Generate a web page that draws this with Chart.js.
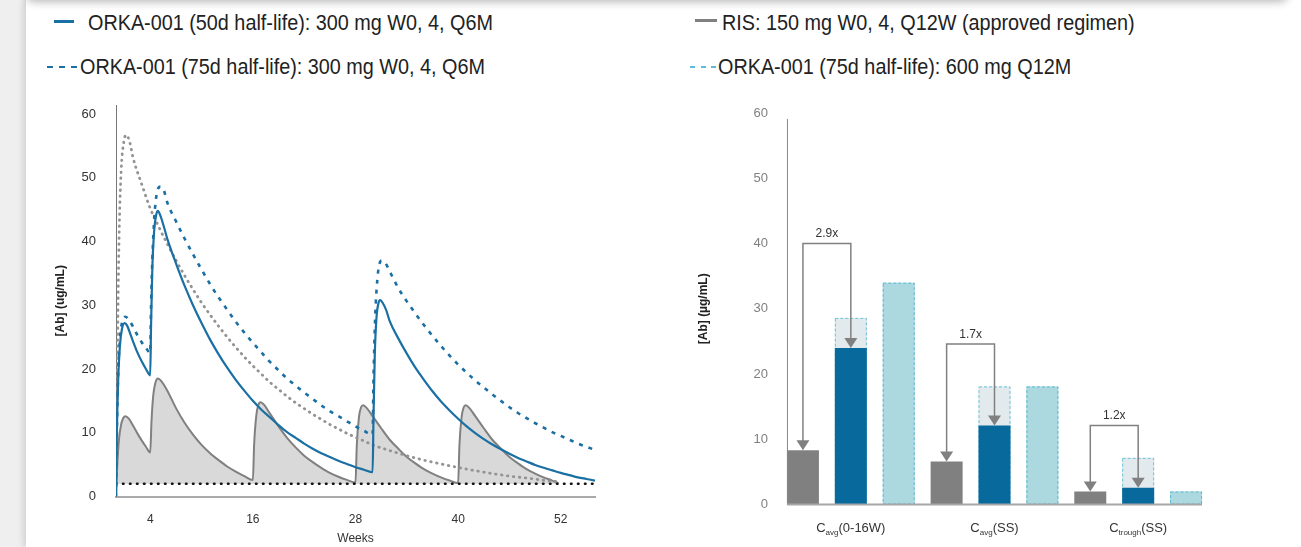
<!DOCTYPE html>
<html>
<head>
<meta charset="utf-8">
<script src="https://cdn.jsdelivr.net/npm/chart.js@4.4.0/dist/chart.umd.min.js"></script>
<style>
html, body { margin: 0; padding: 0; }
body { width: 1301px; height: 547px; overflow: hidden; background: #efefef; position: relative;
       font-family: "Liberation Sans", Arial, sans-serif; }
#panel { position: absolute; left: 26px; top: 0; width: 1275px; height: 547px; background: #fff;
         box-shadow: -3px 0 6px rgba(0,0,0,0.12); }
#topbar { position: absolute; left: 26px; top: -30px; width: 1262px; height: 30px; background: #fff;
          border-radius: 0 0 8px 8px; box-shadow: 0 2px 9px rgba(0,0,0,0.28); }
.lg { position: absolute; font-size: 22px; line-height: 22px; color: #222; white-space: nowrap;
      transform: scaleX(0.9); transform-origin: 0 0; }
.sw { position: absolute; height: 2.5px; }
canvas { position: absolute; }
</style>
</head>
<body>
<div id="panel"></div>
<div id="topbar"></div>

<!-- legend -->
<div class="sw" style="left:54px;top:20px;width:20px;background:#1a6fa3"></div>
<div class="lg" style="left:88px;top:12px">ORKA-001 (50d half-life): 300 mg W0, 4, Q6M</div>
<div class="sw" style="left:47px;top:65.5px;width:30px;background:repeating-linear-gradient(90deg,#1a6fa3 0 6px,transparent 6px 12px)"></div>
<div class="lg" style="left:80px;top:56px">ORKA-001 (75d half-life): 300 mg W0, 4, Q6M</div>
<div class="sw" style="left:695px;top:19px;width:22px;background:#808080"></div>
<div class="lg" style="left:722px;top:12px">RIS: 150 mg W0, 4, Q12W (approved regimen)</div>
<div class="sw" style="left:690px;top:65.5px;width:27px;background:repeating-linear-gradient(90deg,#5bbcd6 0 5px,transparent 5px 10.5px)"></div>
<div class="lg" style="left:718px;top:56px">ORKA-001 (75d half-life): 600 mg Q12M</div>

<canvas id="pk" width="620" height="447" style="left:0;top:100px"></canvas>
<canvas id="bars" width="640" height="447" style="left:640px;top:100px"></canvas>

<script>
// ---- left panel: concentration vs time (weeks / ug/mL) ----
var weekTicks = [4, 16, 28, 40, 52];
var concTicks = [0, 10, 20, 30, 40, 50, 60];

var orka50Weeks = [0, 0.1, 0.25, 0.45, 0.7, 1.0, 1.3, 1.7, 2, 2.5, 3, 3.5, 4,
  4.1, 4.25, 4.45, 4.7, 4.9, 5.2, 5.6, 6, 7, 8, 9, 10, 11, 12, 13, 14, 15, 16, 17, 18,
  19, 20, 21, 22, 23, 24, 25, 26, 27, 28, 29, 30,
  30.1, 30.25, 30.45, 30.7, 30.9, 31.2, 31.6, 32, 33, 34, 35, 36, 37, 38, 39, 40, 41,
  42, 43, 44, 45, 46, 47, 48, 49, 50, 51, 52, 53, 54, 55, 56];
var orka50Conc = [0, 10, 18, 23.5, 26.3, 27.2, 26.8, 25.4, 24.3, 22.6, 21.2, 20.0, 19.0,
  27, 36, 41.5, 44.2, 44.8, 44.0, 42.3, 40.4, 36.6, 33.1, 30.0, 27.2, 24.6, 22.3, 20.2, 18.3, 16.6, 15.0, 13.6, 12.4,
  11.2, 10.1, 9.2, 8.3, 7.5, 6.8, 6.2, 5.6, 5.1, 4.6, 4.2, 3.8,
  12, 22, 28, 30.4, 30.8, 30.3, 29.2, 27.5, 24.8, 22.4, 20.2, 18.3, 16.5, 14.9, 13.5, 12.2, 11.0,
  9.95, 9.0, 8.15, 7.4, 6.7, 6.05, 5.5, 4.95, 4.5, 4.1, 3.7, 3.35, 3.0, 2.75, 2.5];

var orka75Weeks = [0, 0.1, 0.25, 0.45, 0.7, 1.1, 1.5, 2, 2.5, 3, 3.5, 4,
  4.1, 4.3, 4.55, 4.85, 5.2, 5.6, 6, 7, 8, 9, 10, 11, 12, 13, 14, 15, 16, 17, 18,
  19, 20, 21, 22, 23, 24, 25, 26, 27, 28, 29, 30,
  30.1, 30.3, 30.55, 30.85, 31.1, 31.5, 32, 33, 34, 35, 36, 37, 38, 39, 40, 41,
  42, 43, 44, 45, 46, 47, 48, 49, 50, 51, 52, 53, 54, 55, 56];
var orka75Conc = [0, 10, 19, 24.5, 27.3, 28.2, 27.7, 26.6, 25.3, 24.2, 23.3, 22.5,
  30, 39, 45, 48.0, 48.6, 48.0, 46.1, 43.2, 40.5, 38.0, 35.6, 33.3, 31.2, 29.3, 27.4, 25.7, 24.1, 22.6, 21.1,
  19.8, 18.5, 17.4, 16.3, 15.3, 14.3, 13.4, 12.6, 11.8, 11.0, 10.3, 9.7,
  18, 28, 34, 36.7, 37.0, 36.6, 35.3, 32.7, 30.6, 28.7, 26.9, 25.2, 23.6, 22.1, 20.7, 19.4,
  18.2, 17.1, 16.0, 15.0, 14.0, 13.1, 12.3, 11.5, 10.8, 10.1, 9.5, 8.9, 8.3, 7.8, 7.3];

var orka600Weeks = [0, 0.15, 0.35, 0.6, 0.9, 1.2, 1.6,
  2, 3, 4, 5, 6, 7, 8, 9, 10, 11, 12, 13, 14, 15, 16, 17, 18, 19, 20, 21, 22, 23, 24, 25,
  26, 27, 28, 29, 30, 32, 34, 36, 38, 40, 42, 44, 46, 48, 50, 52];
var orka600Conc = [0, 20, 40, 51, 55.5, 56.7, 55.6,
  53.1, 49.0, 45.2, 42.3, 39.6, 37.1, 34.7, 32.5, 30.4, 28.5, 26.7, 25.0, 23.4, 21.9, 20.5, 19.2, 17.9, 16.8, 15.7, 14.7, 13.8, 12.9, 12.1, 11.3,
  10.6, 9.9, 9.3, 8.7, 8.1, 7.2, 6.4, 5.7, 5.1, 4.55, 4.05, 3.6, 3.2, 2.9, 2.55, 2.3];

var risWeeks = [0, 0.15, 0.35, 0.6, 0.85, 1.1, 1.5, 2, 2.5, 3, 3.5, 4,
  4.15, 4.35, 4.6, 4.9, 5.3, 6, 7, 8, 9, 10, 11, 12, 13, 14, 15, 16,
  16.15, 16.4, 16.65, 16.9, 17.3, 18, 19, 20, 21, 22, 23, 24, 25, 26, 27, 28,
  28.15, 28.4, 28.65, 28.9, 29.3, 30, 31, 32, 33, 34, 35, 36, 37, 38, 39, 40,
  40.15, 40.4, 40.65, 40.9, 41.3, 42, 43, 44, 45, 46, 47, 48, 49, 50, 51, 51.7];
var risConc = [0, 5, 9, 11.3, 12.3, 12.6, 12.2, 11.1, 9.9, 8.8, 7.8, 6.9,
  11.8, 15.8, 17.8, 18.5, 18.1, 16.6, 13.9, 11.6, 9.7, 8.1, 6.8, 5.7, 4.7, 3.9, 3.2, 2.6,
  8.2, 12.7, 14.4, 14.8, 14.4, 13.0, 11.0, 9.2, 7.7, 6.4, 5.4, 4.5, 3.7, 3.1, 2.6, 2.2,
  8.0, 12.4, 14.0, 14.3, 13.9, 12.6, 10.7, 8.9, 7.5, 6.2, 5.2, 4.3, 3.6, 3.0, 2.5, 2.1,
  8.0, 12.4, 14.0, 14.3, 13.9, 12.6, 10.7, 8.9, 7.5, 6.2, 5.2, 4.3, 3.6, 3.0, 2.5, 2.1];

// dotted black threshold line
var mecWeeks = [0, 56];
var mecLevel = [2.0, 2.0];

// ---- right panel: exposure metrics (ug/mL) ----
var barSlots = ['', 'Cavg(0-16W)', '', '', 'Cavg(SS)', '', '', 'Ctrough(SS)', ''];
var risBars = [8.3, null, null, 6.6, null, null, 2.0, null, null];
var orka50Bars = [null, 24.0, null, null, 12.1, null, null, 2.55, null];
var orka75Bars = [null, 28.6, null, null, 18.1, null, null, 7.15, null];
var orka600Bars = [null, null, 34.0, null, null, 18.1, null, null, 2.0];
var barTicks = [0, 10, 20, 30, 40, 50, 60];
var metricSub = ['avg', 'avg', 'trough'];
var metricTail = ['(0-16W)', '(SS)', '(SS)'];
var foldLabels = ['2.9x', '1.7x', '1.2x'];
var foldTop = [40.0, 24.6, 12.1];

var FONT = '"Liberation Sans", Arial, sans-serif';
Chart.defaults.font.family = FONT;
Chart.defaults.animation = false;

function pts(xs, ys) {
  return xs.map(function (x, i) { return {x: x, y: ys[i]}; });
}

// keep tick-label padding from pushing the plot area around
function noEdgePadding(s) {
  s.paddingTop = 0; s.paddingBottom = 0; s.paddingLeft = 0; s.paddingRight = 0;
}

var BLUE = '#1a6fa3';

new Chart(document.getElementById('pk'), {
  type: 'line',
  data: {
    datasets: [
      {label: 'ORKA-001 (50d half-life): 300 mg W0, 4, Q6M', data: pts(orka50Weeks, orka50Conc),
       borderColor: BLUE, borderWidth: 2.2, order: 1},
      {label: 'ORKA-001 (75d half-life): 300 mg W0, 4, Q6M', data: pts(orka75Weeks, orka75Conc),
       borderColor: BLUE, borderWidth: 2.6, borderDash: [4, 6], order: 2},
      {label: 'ORKA-001 (75d half-life): 600 mg Q12M', data: pts(orka600Weeks, orka600Conc),
       borderColor: '#939393', borderWidth: 2.8, borderDash: [0.5, 5.5], borderCapStyle: 'round', order: 3},
      {label: 'threshold', data: pts(mecWeeks, mecLevel),
       borderColor: '#111', borderWidth: 2.6, borderDash: [0.5, 6.5], borderCapStyle: 'round', order: 4},
      {label: 'RIS: 150 mg W0, 4, Q12W', data: pts(risWeeks, risConc),
       borderColor: '#808080', borderWidth: 2, backgroundColor: '#d9d9d9', fill: {value: 2.0}, order: 5}
    ]
  },
  options: {
    responsive: false,
    devicePixelRatio: 1,
    layout: {padding: {top: 5, right: 25, left: 0, bottom: 0}},
    elements: {point: {radius: 0}, line: {cubicInterpolationMode: 'monotone'}},
    plugins: {legend: {display: false}, tooltip: {enabled: false}},
    scales: {
      x: {
        type: 'linear', min: 0, max: 56,
        grid: {display: false, drawTicks: false},
        border: {color: '#aaa', width: 2},
        afterBuildTicks: function (s) { s.ticks = weekTicks.map(function (v) { return {value: v}; }); },
        afterFit: function (s) { s.height = 50.5; noEdgePadding(s); },
        ticks: {color: '#333', font: {size: 12}, padding: 16, maxRotation: 0},
        title: {display: true, text: 'Weeks', color: '#333', font: {size: 12}, padding: {top: 0, bottom: 1}}
      },
      y: {
        min: 0, max: 61.4,
        grid: {display: false, drawTicks: false},
        border: {color: '#777', width: 1},
        afterBuildTicks: function (s) { s.ticks = concTicks.map(function (v) { return {value: v}; }); },
        afterFit: function (s) { s.width = 116; noEdgePadding(s); },
        ticks: {color: '#333', font: {size: 13}, padding: 20},
        title: {display: true, text: '[Ab] (ug/mL)', color: '#222', font: {size: 12, weight: 'bold'},
                padding: {top: 53, bottom: 0}}
      }
    }
  }
});

// dashed outlines, axes, fold brackets and subscripted category labels
var barDecor = {
  id: 'barDecor',
  afterDatasetDraw: function (chart, args) {
    var ds = chart.data.datasets[args.index];
    if (!ds.edgeColor) return;
    var ctx = chart.ctx;
    ctx.save();
    ctx.setLineDash([3, 2]);
    ctx.lineWidth = 1;
    ctx.strokeStyle = ds.edgeColor;
    args.meta.data.forEach(function (bar, i) {
      if (ds.data[i] == null) return;
      var p = bar.getProps(['x', 'y', 'base', 'width'], true);
      ctx.strokeRect(p.x - p.width / 2 + 0.5, p.y + 0.5, p.width - 1, p.base - p.y - 1);
    });
    ctx.restore();
  },
  afterDraw: function (chart) {
    var ctx = chart.ctx;
    var yS = chart.scales.y;
    var risMeta = chart.getDatasetMeta(0);
    var blueMeta = chart.getDatasetMeta(1);
    var tealMeta = chart.getDatasetMeta(3);
    var first = risMeta.data[0].getProps(['x', 'width'], true);
    var last = tealMeta.data[barSlots.length - 1].getProps(['x', 'width'], true);
    var x0 = first.x - first.width / 2;
    var x1 = last.x + last.width / 2;
    var y0 = yS.getPixelForValue(0);

    ctx.save();
    // axes
    ctx.strokeStyle = '#888';
    ctx.lineWidth = 1;
    ctx.beginPath();
    ctx.moveTo(x0 + 0.5, yS.getPixelForValue(59.1));
    ctx.lineTo(x0 + 0.5, y0);
    ctx.stroke();
    ctx.strokeStyle = '#a6a6a6';
    ctx.lineWidth = 2;
    ctx.beginPath();
    ctx.moveTo(x0, y0);
    ctx.lineTo(x1, y0);
    ctx.stroke();

    for (var g = 0; g < foldLabels.length; g++) {
      var li = g * 3, ri = g * 3 + 1;
      var lx = risMeta.data[li].getProps(['x'], true).x;
      var rx = blueMeta.data[ri].getProps(['x'], true).x;
      var top = yS.getPixelForValue(foldTop[g]);
      var lb = yS.getPixelForValue(risBars[li]);
      var rb = yS.getPixelForValue(orka50Bars[ri]);
      ctx.strokeStyle = '#808080';
      ctx.fillStyle = '#808080';
      ctx.lineWidth = 1.5;
      ctx.beginPath();
      ctx.moveTo(lx, lb - 9);
      ctx.lineTo(lx, top);
      ctx.lineTo(rx, top);
      ctx.lineTo(rx, rb - 9);
      ctx.stroke();
      [[lx, lb], [rx, rb]].forEach(function (t) {
        ctx.beginPath();
        ctx.moveTo(t[0], t[1]);
        ctx.lineTo(t[0] - 6.5, t[1] - 10);
        ctx.lineTo(t[0] + 6.5, t[1] - 10);
        ctx.closePath();
        ctx.fill();
      });
      ctx.fillStyle = '#333';
      ctx.font = '12px ' + FONT;
      ctx.textAlign = 'center';
      ctx.textBaseline = 'middle';
      ctx.fillText(foldLabels[g], (lx + rx) / 2, top - 9.5);

      // category label: C + subscript + tail, centred under the middle bar
      var cx = blueMeta.data[ri].getProps(['x'], true).x;
      var base = y0 + 27;
      ctx.textAlign = 'left';
      ctx.textBaseline = 'alphabetic';
      ctx.font = '13px ' + FONT;
      var wC = ctx.measureText('C').width;
      var wT = ctx.measureText(metricTail[g]).width;
      ctx.font = '8px ' + FONT;
      var wS = ctx.measureText(metricSub[g]).width;
      var sx = cx - (wC + wS + wT) / 2;
      ctx.font = '13px ' + FONT;
      ctx.fillText('C', sx, base);
      ctx.fillText(metricTail[g], sx + wC + wS, base);
      ctx.font = '8px ' + FONT;
      ctx.fillText(metricSub[g], sx + wC, base + 3);
    }
    ctx.restore();
  }
};

new Chart(document.getElementById('bars'), {
  type: 'bar',
  data: {
    labels: barSlots,
    datasets: [
      {label: 'RIS: 150 mg W0, 4, Q12W', data: risBars, backgroundColor: '#808080', order: 3},
      {label: 'ORKA-001 (50d half-life): 300 mg', data: orka50Bars, backgroundColor: '#08699d', order: 1},
      {label: 'ORKA-001 (75d half-life): 300 mg', data: orka75Bars, backgroundColor: '#e2eaee',
       edgeColor: '#6cc2d8', order: 2},
      {label: 'ORKA-001 (75d half-life): 600 mg Q12M', data: orka600Bars, backgroundColor: '#acd8df',
       edgeColor: '#5bb9d1', order: 3}
    ]
  },
  options: {
    responsive: false,
    devicePixelRatio: 1,
    datasets: {bar: {grouped: false, categoryPercentage: 1, barPercentage: 0.668}},
    layout: {padding: {top: 13, right: 70, left: 0, bottom: 0}},
    plugins: {legend: {display: false}, tooltip: {enabled: false}},
    scales: {
      x: {
        grid: {display: false, drawTicks: false},
        border: {display: false},
        ticks: {display: false},
        afterFit: function (s) { s.height = 42.5; noEdgePadding(s); }
      },
      y: {
        min: 0, max: 60,
        grid: {display: false, drawTicks: false},
        border: {display: false},
        afterBuildTicks: function (s) { s.ticks = barTicks.map(function (v) { return {value: v}; }); },
        afterFit: function (s) { s.width = 139; noEdgePadding(s); },
        ticks: {color: '#808080', font: {size: 13}, padding: 11},
        title: {display: true, text: '[Ab] (µg/mL)', color: '#222', font: {size: 12, weight: 'bold'},
                padding: {top: 56, bottom: 0}}
      }
    }
  },
  plugins: [barDecor]
});
</script>
</body>
</html>
